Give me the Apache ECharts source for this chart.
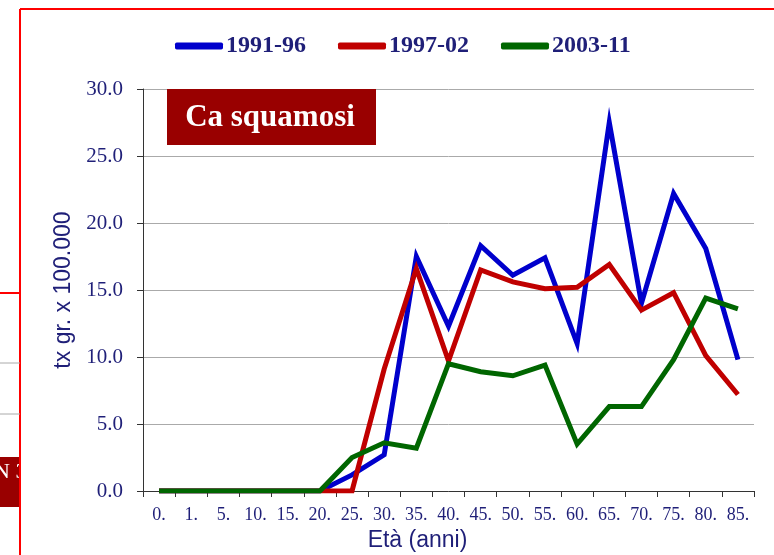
<!DOCTYPE html>
<html>
<head>
<meta charset="utf-8">
<script src="https://cdn.jsdelivr.net/npm/echarts@6/dist/echarts.min.js"></script>
<style>
  html, body { margin: 0; padding: 0; background: #fff; }
  #chart_1 { width: 774px; height: 555px; }
</style>
</head>
<body>
<div id="chart_1"></div>
<script>
// classi di età
var ages = ['0.', '1.', '5.', '10.', '15.', '20.', '25.', '30.', '35.', '40.', '45.', '50.', '55.', '60.', '65.', '70.', '75.', '80.', '85.'];

// tassi grezzi x 100.000 per periodo
var p1991 = [0, 0, 0, 0, 0, 0, 1.2, 2.7, 17.5, 12.3, 18.3, 16.1, 17.4, 11.0, 27.5, 14.0, 22.2, 18.1, 9.8];
var p1997 = [0, 0, 0, 0, 0, 0, 0, 9.1, 16.6, 9.7, 16.5, 15.6, 15.1, 15.2, 16.9, 13.5, 14.8, 10.1, 7.2];
var p2003 = [0, 0, 0, 0, 0, 0, 2.5, 3.6, 3.2, 9.5, 8.9, 8.6, 9.4, 3.5, 6.3, 6.3, 9.8, 14.4, 13.6];

var names = ['1991-96', '1997-02', '2003-11'];
var colors = ['#0000cc', '#c00000', '#006600'];
var navy = '#1f1f78';

function serie(name, data, color) {
    return {
        name: name,
        type: 'line',
        data: data,
        symbol: 'none',
        lineStyle: {width: 5, color: color, join: 'miter'},
        itemStyle: {color: color}
    };
}

var myChart = echarts.init(document.getElementById('chart_1'));
var option = {
    animation: false,
    backgroundColor: '#fff',
    legend: {
        top: 29,
        left: 170,
        itemWidth: 48,
        itemHeight: 7,
        itemGap: 32,
        icon: 'roundRect',
        textStyle: {fontFamily: 'Liberation Serif', fontWeight: 'bold', fontSize: 24, color: navy, padding: [0, 0, 0, -2]},
        data: names
    },
    grid: {left: 143, right: 20, top: 89, bottom: 64, outerBoundsMode: 'none'},
    xAxis: {
        type: 'category',
        data: ages,
        boundaryGap: true,
        axisLine: {lineStyle: {color: '#333', width: 1}},
        axisTick: {show: true, length: 6, lineStyle: {color: '#333'}},
        axisLabel: {fontFamily: 'Liberation Serif', fontSize: 18, color: navy, margin: 15, interval: 0},
        name: 'Età (anni)',
        nameLocation: 'middle',
        nameGap: 38,
        nameTextStyle: {fontFamily: 'Liberation Sans', fontSize: 23, color: navy, padding: [0, 62, 0, 0]}
    },
    yAxis: {
        type: 'value',
        min: 0,
        max: 30,
        interval: 5,
        axisLine: {show: true, lineStyle: {color: '#333', width: 1}},
        axisTick: {show: true, length: 6, lineStyle: {color: '#333'}},
        splitLine: {lineStyle: {color: '#aaaaaa', width: 1}},
        axisLabel: {
            fontFamily: 'Liberation Serif', fontSize: 21, color: navy, margin: 20,
            formatter: function (v) { return v.toFixed(1); }
        },
        name: 'tx gr. x 100.000',
        nameLocation: 'middle',
        nameGap: 63,
        nameTextStyle: {fontFamily: 'Liberation Sans', fontSize: 23, color: navy}
    },
    graphic: [
        // cornice rossa della slide
        {type: 'line', shape: {x1: 20, y1: 9, x2: 774, y2: 9}, style: {stroke: '#ff0000', lineWidth: 2}, z: 10},
        {type: 'line', shape: {x1: 20, y1: 9, x2: 20, y2: 555}, style: {stroke: '#ff0000', lineWidth: 2}, z: 10},
        // frammenti della slide accanto
        {type: 'line', shape: {x1: 0, y1: 293, x2: 20, y2: 293}, style: {stroke: '#ff0000', lineWidth: 2}, z: 10},
        {type: 'line', shape: {x1: 0, y1: 363, x2: 20, y2: 363}, style: {stroke: '#aaaaaa', lineWidth: 1}, z: 10},
        {type: 'line', shape: {x1: 0, y1: 414, x2: 20, y2: 414}, style: {stroke: '#aaaaaa', lineWidth: 1}, z: 10},
        {type: 'rect', shape: {x: 0, y: 457, width: 20, height: 50}, style: {fill: '#990000'}, z: 8},
        {type: 'text', x: -6, y: 472, style: {text: 'N 3', fill: '#fff', font: '22px "Liberation Serif"', textVerticalAlign: 'middle'}, z: 9},
        {type: 'rect', shape: {x: 21, y: 455, width: 40, height: 55}, style: {fill: '#fff'}, z: 9},
        // titolo
        {type: 'rect', shape: {x: 167, y: 89, width: 209, height: 56}, style: {fill: '#990000'}, z: 20},
        {type: 'text', x: 270, y: 118, style: {text: 'Ca squamosi', fill: '#fff', font: 'bold 31px "Liberation Serif"', textAlign: 'center', textVerticalAlign: 'middle'}, z: 21}
    ],
    series: [
        serie(names[0], p1991, colors[0]),
        serie(names[1], p1997, colors[1]),
        serie(names[2], p2003, colors[2])
    ]
};
myChart.setOption(option);
</script>
</body>
</html>
